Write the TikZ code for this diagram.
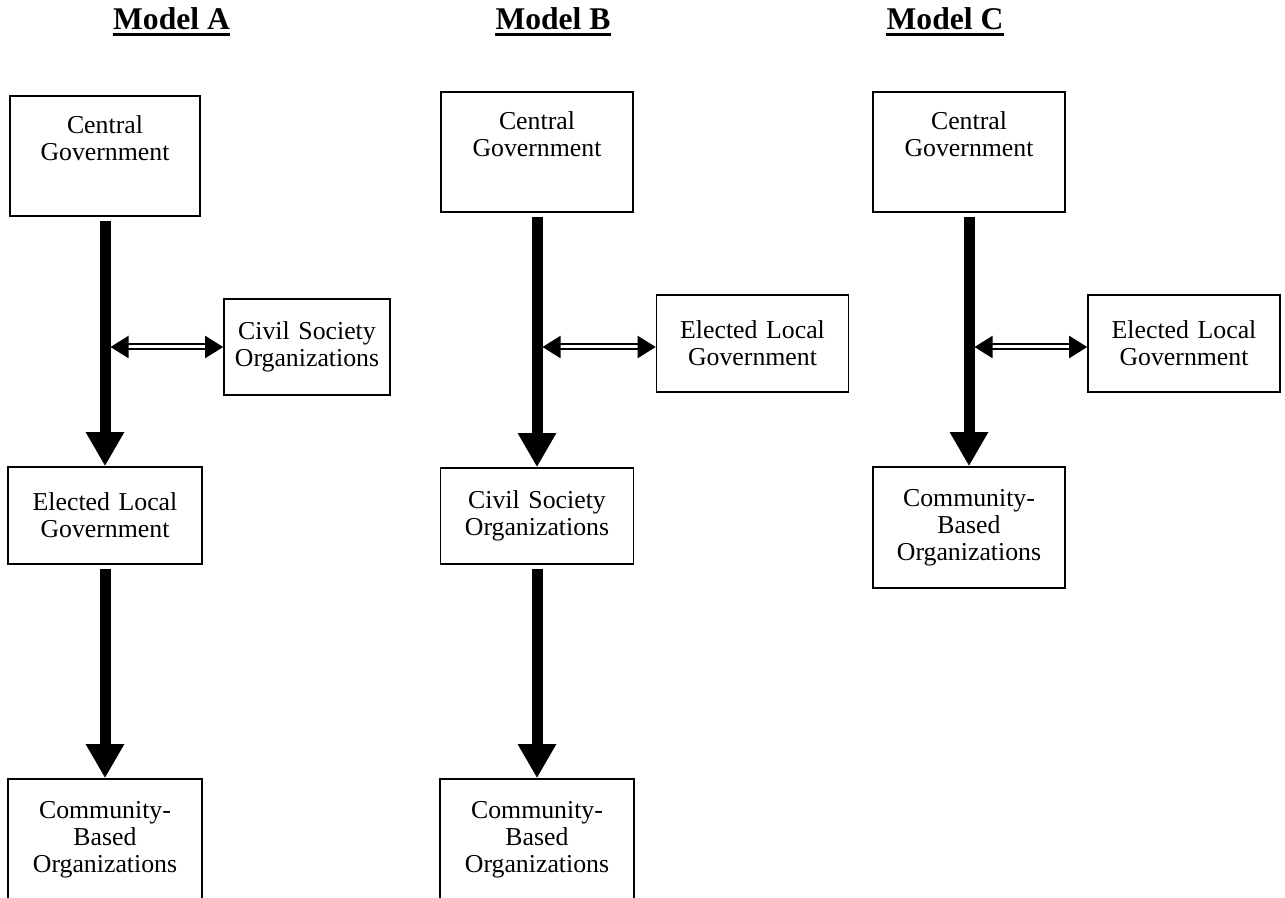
\documentclass[tikz,border=0pt]{standalone}
\usepackage{fontspec}
\setmainfont{Liberation Serif}
\usetikzlibrary{positioning}
\usetikzlibrary{arrows.meta}

\begin{document}
\begin{tikzpicture}[x=0.5pt, y=-0.5pt,
    every node/.style={font=\fontsize{12.9pt}{13.5pt}\selectfont},
    title/.style={font=\fontsize{15.8pt}{18pt}\selectfont\bfseries, anchor=base, inner sep=0pt},
    box/.style={draw, line width=0.8pt, align=center, inner sep=0pt, text width=90pt},
    flow/.style={line width=5.5pt, -{Triangle[width=18pt,length=17pt]}, shorten <=2pt},
    link/.style={double, line width=1pt, double distance=1.5pt,
        {Triangle[width=11pt,length=9pt]}-{Triangle[width=11pt,length=9pt]}, shorten <=2.75pt}]
\clip (0,0) rectangle (1285,898);

\foreach \m/\x in {A/171.5,B/553,C/945} {
    \node[title] (t\m) at (\x,30) {Model \m};
    \draw[line width=1.5pt] ([yshift=-2.5pt]t\m.base west) -- ([yshift=-2.5pt]t\m.base east); % underline
}

% Model A
\node[box, minimum width=95pt, minimum height=60pt] (cgA) at (105,156) {Central\\Government\\\strut};
\node[box, text width=80pt, minimum width=83pt, minimum height=48pt] (csoA) at (307,347) {Civil Society\\Organizations};
\node[box, minimum width=97pt, minimum height=48.5pt] (elgA) at (105,515.5) {Elected Local\\Government};
\node[box, minimum width=97pt, minimum height=60.5pt] (cboA) at (105,839.5) {Community-\\Based\\Organizations};
\coordinate (jA) at (105,347);
\draw[flow] (cgA) -- (elgA);
\draw[flow] (elgA) -- (cboA);
\draw[link] (jA) -- (jA -| csoA.west);

% Model B
\node[box, minimum width=96pt, minimum height=60pt] (cgB) at (537,152) {Central\\Government\\\strut};
\node[box, minimum width=96pt, minimum height=48.5pt] (elgB) at (752.5,343.5) {Elected Local\\Government};
\node[box, minimum width=96.5pt, minimum height=48pt] (csoB) at (537,516) {Civil Society\\Organizations};
\node[box, minimum width=97pt, minimum height=60.5pt] (cboB) at (537,839.5) {Community-\\Based\\Organizations};
\coordinate (jB) at (537,347);
\draw[flow] (cgB) -- (csoB);
\draw[flow] (csoB) -- (cboB);
\draw[link] (jB) -- (jB -| elgB.west);

% Model C
\node[box, minimum width=96pt, minimum height=60pt] (cgC) at (969,152) {Central\\Government\\\strut};
\node[box, minimum width=96pt, minimum height=48.5pt] (elgC) at (1184,343.5) {Elected Local\\Government};
\node[box, minimum width=96pt, minimum height=60.5pt] (cboC) at (969,527.5) {Community-\\Based\\Organizations};
\coordinate (jC) at (969,347);
\draw[flow] (cgC) -- (cboC);
\draw[link] (jC) -- (jC -| elgC.west);
\end{tikzpicture}
\end{document}
